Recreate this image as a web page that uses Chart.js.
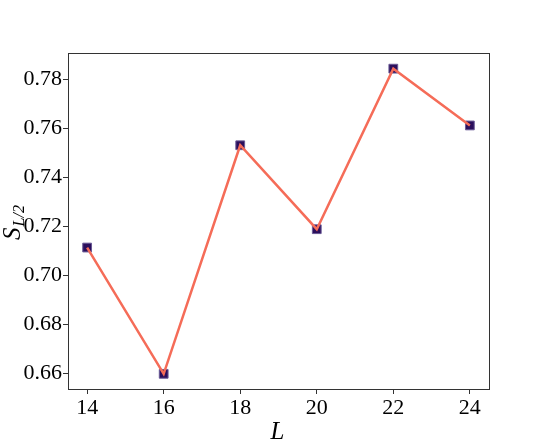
<!DOCTYPE html>
<html>
<head>
<meta charset="utf-8">
<script src="https://cdn.jsdelivr.net/npm/chart.js@4/dist/chart.umd.min.js"></script>
<style>
  html,body{margin:0;padding:0;background:#fff;}
  #wrap{width:544px;height:445px;}
</style>
</head>
<body>
<div id="wrap"><canvas id="chart" width="544" height="445"></canvas></div>
<script>
// data
const sizes = [14, 16, 18, 20, 22, 24];
const entropy = [0.7114, 0.6598, 0.7532, 0.7189, 0.7845, 0.7613];
const xTicks = [14, 16, 18, 20, 22, 24];
const yTicks = [0.66, 0.68, 0.70, 0.72, 0.74, 0.76, 0.78];

const pts = sizes.map((x, i) => ({x, y: entropy[i]}));
const serif = '"Liberation Serif", "DejaVu Serif", serif';

// box around the plot + axis labels (matplotlib style)
const frame = {
  id: 'frame',
  afterDraw(c){
    const {ctx, chartArea: a} = c;
    ctx.save();
    ctx.strokeStyle = '#333';
    ctx.lineWidth = 1;
    ctx.strokeRect(a.left + 0.5, a.top + 0.5, a.right - a.left, a.bottom - a.top);
    ctx.fillStyle = '#000';
    // x label
    ctx.font = 'italic 25px ' + serif;
    ctx.textAlign = 'center';
    ctx.textBaseline = 'alphabetic';
    ctx.fillText('L', (a.left + a.right) / 2 - 1, 439);
    // y label S_{L/2}
    ctx.translate(20, (a.top + a.bottom) / 2 + 2);
    ctx.rotate(-Math.PI / 2);
    ctx.textAlign = 'left';
    ctx.font = 'italic 25px ' + serif;
    const w1 = ctx.measureText('S').width;
    ctx.font = 'italic 16px ' + serif;
    const w2 = ctx.measureText('L/2').width;
    const x0 = -(w1 + w2) / 2;
    ctx.font = 'italic 25px ' + serif;
    ctx.fillText('S', x0, 0);
    ctx.font = 'italic 16px ' + serif;
    ctx.fillText('L/2', x0 + w1 + 1, 4);
    ctx.restore();
  }
};

new Chart(document.getElementById('chart').getContext('2d'), {
  type: 'scatter',
  data: {
    datasets: [
      {
        label: 'line', data: pts, showLine: true,
        borderColor: '#f56c58', borderWidth: 2.5,
        pointRadius: 0, order: 1
      },
      {
        label: 'markers', data: pts, showLine: false,
        pointStyle: 'rect', pointRadius: 6.2,
        backgroundColor: '#2b0f5c', borderColor: '#6a5a96', borderWidth: 1,
        order: 2
      }
    ]
  },
  options: {
    responsive: false,
    animation: false,
    layout: {padding: {left: 0, top: 53, right: 55, bottom: 0}},
    plugins: {legend: {display: false}, tooltip: {enabled: false}},
    scales: {
      x: {
        type: 'linear', min: 13.5, max: 24.5,
        afterBuildTicks: s => { s.ticks = xTicks.map(v => ({value: v})); },
        afterFit: s => { s.height = 56; },
        grid: {display: true, drawOnChartArea: false, tickLength: 5, color: '#333'},
        border: {display: true, color: '#333'},
        ticks: {color: '#000', padding: 1, font: {family: serif, size: 22},
                callback: v => String(v)}
      },
      y: {
        type: 'linear', min: 0.6536, max: 0.7909,
        afterBuildTicks: s => { s.ticks = yTicks.map(v => ({value: v})); },
        afterFit: s => { s.width = 68; },
        grid: {display: true, drawOnChartArea: false, tickLength: 5, color: '#333'},
        border: {display: true, color: '#333'},
        ticks: {color: '#000', padding: 1, font: {family: serif, size: 22},
                callback: v => v.toFixed(2)}
      }
    }
  },
  plugins: [frame]
});
</script>
</body>
</html>
